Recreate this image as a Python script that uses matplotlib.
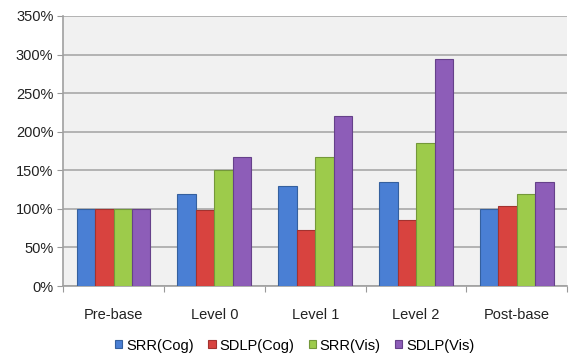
import numpy as np
import matplotlib.pyplot as plt

plt.rcParams['font.family'] = ['Liberation Sans', 'DejaVu Sans']

# ------------------------------------------------------------
# Data (percent of baseline)
# ------------------------------------------------------------
categories = ["Pre-base", "Level 0", "Level 1", "Level 2", "Post-base"]
series_names = ["SRR(Cog)", "SDLP(Cog)", "SRR(Vis)", "SDLP(Vis)"]
srr_cog = [100, 119, 130, 135, 100]
sdlp_cog = [100, 98, 72, 86, 104]
srr_vis = [100, 150, 167, 185, 119]
sdlp_vis = [100, 167, 220, 294, 135]
y_ticks = [0, 50, 100, 150, 200, 250, 300, 350]

fills = ["#4a7fd4", "#d8433f", "#9dcb4b", "#8d5db8"]
edges = ["#35609e", "#a3322f", "#74983a", "#66418a"]

fig = plt.figure(figsize=(5.69, 3.54), dpi=100)
ax = fig.add_axes([0.111, 0.192, 0.886, 0.763])
ax.set_facecolor("#f1f1f1")

x = np.arange(len(categories))
width = 0.183
all_series = [srr_cog, sdlp_cog, srr_vis, sdlp_vis]
for i, vals in enumerate(all_series):
    offset = (i - 1.5) * width
    ax.bar(x + offset, vals, width, color=fills[i], edgecolor=edges[i],
           linewidth=0.8, label=series_names[i], zorder=3)

ax.set_xlim(-0.5, len(categories) - 0.5)
ax.set_ylim(0, 350)
ax.set_yticks(y_ticks)
ax.set_yticklabels([f"{v}%" for v in y_ticks], fontsize=10.5, color="#222222")
ax.yaxis.grid(True, color="#a8a8a8", linewidth=1.2, zorder=0)
ax.set_axisbelow(True)

# category labels centred, tick marks between groups
ax.set_xticks(np.arange(-0.5, len(categories) + 0.5, 1.0))
ax.set_xticklabels([])
ax.set_xticks(x, minor=True)
ax.set_xticklabels(categories, minor=True, fontsize=10.5, color="#222222")
ax.tick_params(axis="x", which="minor", length=0, pad=16)
ax.tick_params(axis="x", which="major", length=4, color="#999999")
ax.tick_params(axis="y", length=4, color="#999999", pad=3)

for side in ["top", "right"]:
    ax.spines[side].set_visible(False)
for side in ["left", "bottom"]:
    ax.spines[side].set_color("#a0a0a0")
    ax.spines[side].set_linewidth(1.2)

fig.legend(loc="center", bbox_to_anchor=(0.518, 0.024), ncol=4, frameon=False,
           fontsize=10.5, handlelength=0.5, handleheight=0.5, handletextpad=0.25,
           columnspacing=1.0)

plt.savefig("out.png", dpi=100)
